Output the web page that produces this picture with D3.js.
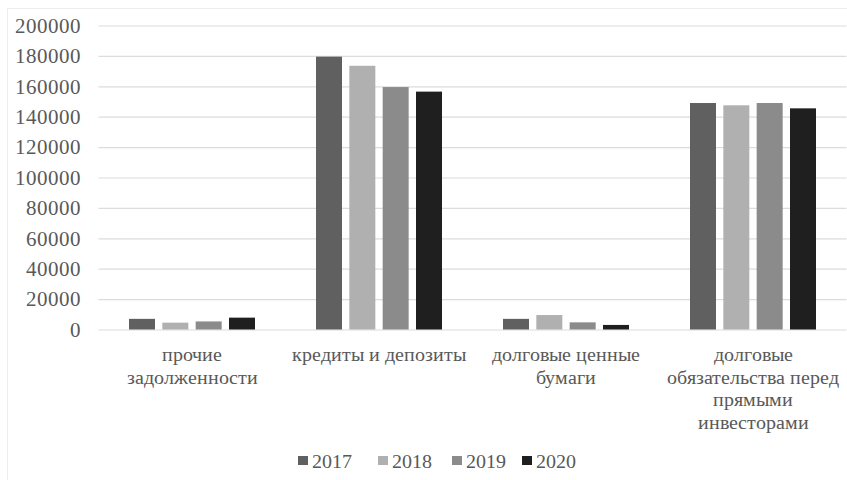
<!DOCTYPE html>
<html>
<head>
<meta charset="utf-8">
<script src="https://cdn.jsdelivr.net/npm/d3@7"></script>
<style>
@font-face { font-family: "ChartSerif"; src: local("Liberation Serif"), local("LiberationSerif"), local("Times New Roman"), local("Tinos"); }
</style>
</head>
<body style="margin:0">
<svg id="chart" width="847" height="480" style="display:block"></svg>
<script>
const categories = [
  ["прочие", "задолженности"],
  ["кредиты и депозиты"],
  ["долговые ценные", "бумаги"],
  ["долговые", "обязательства перед", "прямыми", "инвесторами"]
];
const years = ["2017", "2018", "2019", "2020"];
const values2017 = [7000, 179500, 7000, 149000];
const values2018 = [4500, 173500, 9500, 147500];
const values2019 = [5300, 159500, 4700, 149000];
const values2020 = [7800, 156500, 3000, 145500];
const yTicks = [0, 20000, 40000, 60000, 80000, 100000, 120000, 140000, 160000, 180000, 200000];
const colors = ["#606060", "#b0b0b0", "#8b8b8b", "#1f1f1f"];

(function () {
const FONT = '"ChartSerif", "Liberation Serif", "Times New Roman", serif';
const TEXT = "#595959";
const series = [values2017, values2018, values2019, values2020];
const svg = d3.select("#chart");

function serif(sel, size) {
  return sel.style("font-family", FONT).style("font-size", size + "px").style("fill", TEXT);
}

svg.append("rect").attr("x", 7.5).attr("y", 8.5).attr("width", 850).attr("height", 480)
  .attr("fill", "none").attr("stroke", "#ededed");

const mLeft = 98.5, mRight = 846.5, mTop = 25.5, mBottom = 329.5;
const catIdx = categories.map((d, i) => i);
const x0 = d3.scaleBand().domain(catIdx).range([mLeft, mRight]).padding(0);
const x1 = d3.scaleBand().domain(years).range([0, x0.bandwidth()]).paddingInner(0.22).paddingOuter(0.915);
const y = d3.scaleLinear().domain([0, 200000]).range([mBottom, mTop]);

const yAxis = d3.axisLeft(y).tickValues(yTicks).tickSize(-(mRight - mLeft)).tickFormat(d3.format("d")).tickPadding(18);
const gy = svg.append("g").attr("transform", `translate(${mLeft},0)`).call(yAxis);
gy.attr("font-family", null).attr("font-size", null);
gy.select(".domain").remove();
gy.selectAll(".tick line").attr("stroke", "#dcdcdc").attr("stroke-width", 1.2);
serif(gy.selectAll(".tick text"), 21);

const rows = [];
catIdx.forEach(ci => years.forEach((yr, si) => rows.push({ ci, yr, si, v: series[si][ci] })));
svg.append("g").selectAll("rect").data(rows).join("rect")
  .attr("x", d => x0(d.ci) + x1(d.yr))
  .attr("y", d => y(d.v))
  .attr("width", x1.bandwidth())
  .attr("height", d => y(0) - y(d.v))
  .attr("fill", d => colors[d.si]);

const gl = svg.append("g");
categories.forEach((lines, ci) => {
  const cx = x0(ci) + x0.bandwidth() / 2;
  lines.forEach((ln, li) => {
    serif(gl.append("text"), 20).attr("text-anchor", "middle")
      .attr("x", cx).attr("y", 361 + li * 22.5).text(ln);
  });
});

const legendX = [298, 378, 452, 522];
const lg = svg.append("g");
years.forEach((yr, i) => {
  lg.append("rect").attr("x", legendX[i]).attr("y", 456).attr("width", 10).attr("height", 9).attr("fill", colors[i]);
  serif(lg.append("text"), 20).attr("x", legendX[i] + 14).attr("y", 467.5).text(yr);
});
})();
</script>
</body>
</html>
